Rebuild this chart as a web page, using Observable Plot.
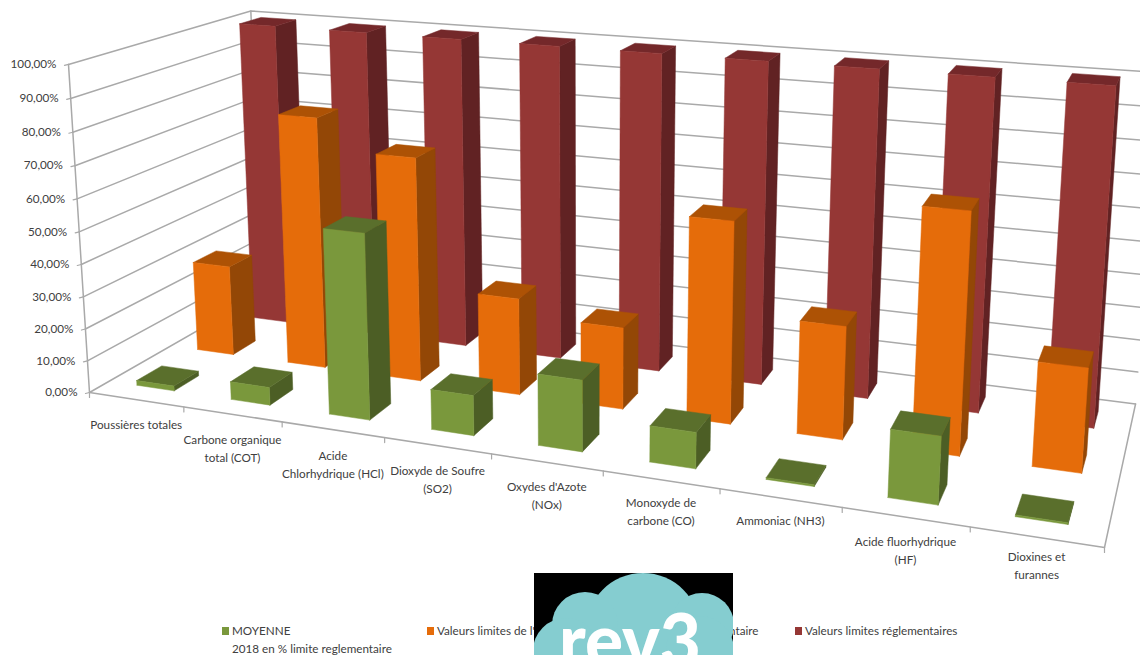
<!DOCTYPE html>
<html lang="fr">
<head>
<meta charset="utf-8">
<script src="https://cdn.jsdelivr.net/npm/d3@7"></script>
<script src="https://cdn.jsdelivr.net/npm/@observablehq/plot@0.6"></script>
<style>
html,body{margin:0;padding:0;background:#fff;overflow:hidden;width:1140px;height:655px}
#wrap{position:relative;width:1140px;height:655px;overflow:hidden;font-family:Lato,"Noto Sans",sans-serif;color:#404040}
#wrap svg{display:block}
.lg{position:absolute;font-size:11.7px;line-height:18px;white-space:nowrap}
.sw{position:absolute;width:7px;height:8px}
#logo{position:absolute;left:534px;top:573px;width:199px;height:82px}
</style>
</head>
<body>
<div id="wrap">
<div id="chart"></div>
<i class="sw" style="left:222px;top:627px;background:#7a983c"></i>
<div class="lg" style="left:232px;top:621px">MOYENNE<br>2018 en % limite reglementaire</div>
<i class="sw" style="left:427px;top:627px;background:#e56c0a"></i>
<div class="lg" style="left:437px;top:621px">Valeurs limites de l'</div>
<div class="lg" style="left:729px;top:621px">ntaire</div>
<i class="sw" style="left:795px;top:627px;background:#953735"></i>
<div class="lg" style="left:805px;top:621px">Valeurs limites réglementaires</div>
<svg id="logo" viewBox="534 573 199 82">
  <rect x="534" y="573" width="199" height="82" fill="#000"/>
  <g fill="#85cdd0">
    <circle cx="643" cy="630" r="57"/>
    <circle cx="585" cy="625" r="33"/>
    <circle cx="566" cy="651" r="33"/>
    <circle cx="702" cy="625" r="32"/>
    <circle cx="700" cy="650" r="34"/>
  </g>
  <text x="559" y="667" font-family="Lato" font-weight="900" font-size="75" fill="#fff" textLength="142" lengthAdjust="spacingAndGlyphs">rev3</text>
</svg>
</div>
<script>
const categories = ["Poussières totales","Carbone organique\ntotal (COT)","Acide\nChlorhydrique (HCl)","Dioxyde de Soufre\n(SO2)","Oxydes d'Azote\n(NOx)","Monoxyde de\ncarbone (CO)","Ammoniac (NH3)","Acide fluorhydrique\n(HF)","Dioxines et\nfurannes"];
const moyenne = [1.5,5.5,56,12,21,10.5,0.5,19,0.5];
const valeursIVL = [29,79.5,70,30,25,60.5,33.5,70,30];
const limites = [100,100,100,100,100,100,100,100,100];
const yTicks = [0,10,20,30,40,50,60,70,80,90,100];
const labelDy = [24,33,34,33,32,30,21,32,27];

// Perspective of the chart box (layout constants): floor corners and their weights, vertical vanishing point
const O = [89,392,1], X = [1104,547,1], Y = [262,293,1], VP = [588,8185,1];
const wX = 0.82, wY = 1.169, kZ = -0.0404;
function project(x,y,z){
  const h=[0,1,2].map(i=>O[i]+x*(wX*X[i]-O[i])+y*(wY*Y[i]-O[i])+z*kZ*VP[i]);
  return [h[0]/h[2],h[1]/h[2]];
}

const n = categories.length;
const series = [
  {values:limites,   depth:2, front:"#953735", top:"#74282a", side:"#612223"},
  {values:valeursIVL,depth:1, front:"#e56c0a", top:"#ad5205", side:"#934706"},
  {values:moyenne,   depth:0, front:"#7a983c", top:"#5a6f2c", side:"#4c5e25"}
];
const gap = 0.3, thick = 0.4;
const faces = [];
let id = 0;
function face(pts,color){
  id++;
  [...pts,pts[0]].forEach(p=>{const [px,py]=project(...p);faces.push({id,px,py,color});});
}
for (const s of series) {
  s.values.forEach((v,i)=>{
    const x0=(i+gap)/n,x1=(i+gap+thick)/n,y0=(s.depth+gap)/3,y1=(s.depth+gap+thick)/3,z=v/100;
    face([[x1,y0,0],[x1,y1,0],[x1,y1,z],[x1,y0,z]],s.side);
    face([[x0,y0,z],[x1,y0,z],[x1,y1,z],[x0,y1,z]],s.top);
    face([[x0,y0,0],[x1,y0,0],[x1,y0,z],[x0,y0,z]],s.front);
  });
}
const grid = [];
yTicks.forEach(t=>{
  const z=t/100;
  [[0,0,z],[0,1,z],[1,1,z]].forEach(p=>{const [px,py]=project(...p);grid.push({g:"t"+t,px,py});});
});
[[[0,0,0],[1,0,0],[1,1,0]],[[0,0,0],[0,0,1]],[[0,1,0],[0,1,1]]].forEach((l,k)=>l.forEach(p=>{const [px,py]=project(...p);grid.push({g:"a"+k,px,py});}));
const yLabels = yTicks.map(t=>{const [px,py]=project(0,0,t/100);return {px,py,label:t.toFixed(2).replace(".",",")+"%"};});
const xTicks = d3.range(0,n+1).map(i=>{const [px,py]=project(i/n,0,0);return {px,py};});
const xLabels = categories.map((c,i)=>{const [px,py]=project((i+.5)/n,0,0);return {px,py:py+labelDy[i],c};});

const chart = Plot.plot({
  width:1140,height:655,margin:0,
  x:{domain:[0,1140],range:[0,1140],axis:null},
  y:{domain:[0,655],range:[0,655],axis:null},
  color:{type:"identity"},
  style:{background:"transparent"},
  marks:[
    Plot.line(grid,{x:"px",y:"py",z:"g",stroke:"#a9a9a9",strokeWidth:1.5}),
    Plot.line(yLabels.flatMap((d,i)=>[{i,x:d.px,y:d.py},{i,x:d.px-4,y:d.py+1}]),{x:"x",y:"y",z:"i",stroke:"#a9a9a9",strokeWidth:1.2}),
    Plot.line(xTicks.flatMap((d,i)=>[{i,x:d.px,y:d.py},{i,x:d.px,y:d.py+5}]),{x:"x",y:"y",z:"i",stroke:"#a9a9a9",strokeWidth:1.2}),
    Plot.line(faces,{x:"px",y:"py",z:"id",fill:"color",stroke:"color",strokeWidth:0.5}),
    Plot.text(yLabels,{x:"px",y:"py",text:"label",textAnchor:"end",dx:-12,fontSize:11.7,fill:"#404040",fontFamily:"Lato"}),
    Plot.text(xLabels,{x:"px",y:"py",text:"c",fontSize:11.7,lineHeight:1.54,fill:"#404040",fontFamily:"Lato"})
  ]
});
document.getElementById("chart").appendChild(chart);
</script>
</body>
</html>
